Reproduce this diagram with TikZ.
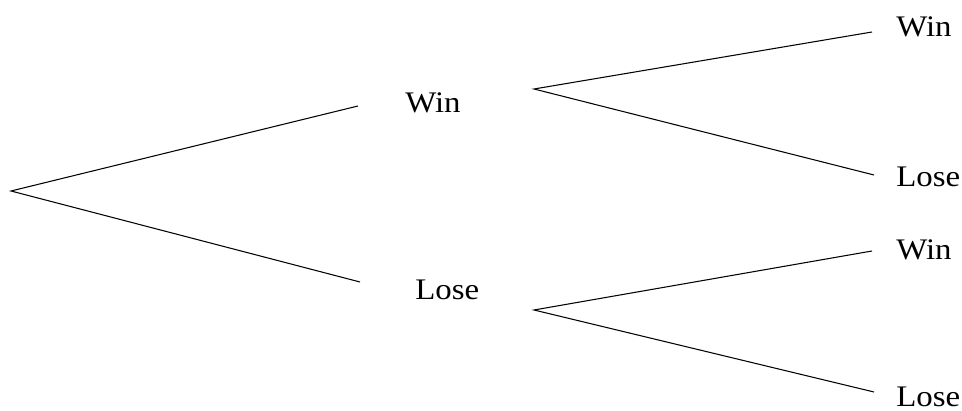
\documentclass[tikz,border=0pt]{standalone}
\usepackage{fontspec}
\setmainfont{Liberation Serif}[FakeStretch=1.1]
\usetikzlibrary{positioning}
\begin{document}
\begin{tikzpicture}[x=0.02cm,y=-0.02cm,
  lbl/.style={anchor=west,inner sep=0pt,font=\fontsize{17}{20}\selectfont},
  branch/.style={line width=0.6pt}]
\useasboundingbox (0,0) rectangle (962,411);
% first game
\coordinate (root) at (11,191);
\coordinate (w1) at (358,106);
\coordinate (l1) at (360,282);
\node[lbl] (win) at (405,103) {Win};
\node[lbl] (lose) at (415,290) {Lose};
\draw[branch] (w1) -- (root) -- (l1);
% second game
\coordinate (ww) at (534,89);
\coordinate (ll) at (534,310);
\foreach \s/\a/\b/\ya/\yb/\ta/\tb in {ww/32/175/27/177/ww2/wl2, ll/251/392/250/397/lw2/ll2} {
  \coordinate (\ta e) at (872,\a);
  \coordinate (\tb e) at (874,\b);
  \node[lbl] (\ta) at (896,\ya) {Win};
  \node[lbl] (\tb) at (896,\yb) {Lose};
  \draw[branch] (\ta e) -- (\s) -- (\tb e);
}
\end{tikzpicture}
\end{document}
